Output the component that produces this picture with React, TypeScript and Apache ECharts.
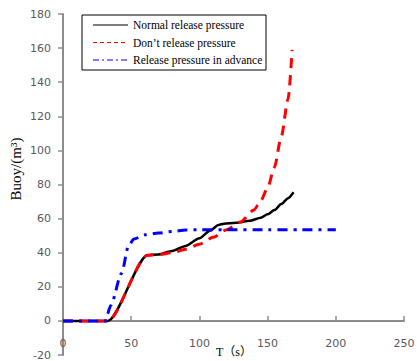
import React, { useEffect, useRef } from "react";
import * as echarts from "echarts";

const seriesNames = [
  "Normal release pressure",
  "Don\u2019t release pressure",
  "Release pressure in advance",
];
const seriesColors = ["#000000", "#ff0000", "#0000ff"];
const seriesDash: any[] = ["solid", [10, 7], [10, 6, 3, 6]];
const legendDash: any[] = [null, [4, 3], [6, 3, 2, 3]];

const normalT = [0, 33, 62, 70, 80, 90, 100, 108, 114, 118, 127, 137, 145, 150, 155, 160, 165, 169];
const normalV = [0, 0, 38.5, 39, 41, 44, 48.5, 53, 56.3, 57, 57.5, 58.7, 60.5, 62.5, 65, 68.5, 72, 75.5];

const dontT = [0, 33, 62, 70, 80, 90, 100, 110, 120, 130, 140, 145, 150, 155, 160, 165, 168];
const dontV = [0, 0, 38.5, 38.8, 40, 42, 45, 49, 53.5, 58, 65, 70.5, 78, 90, 108, 130, 159];

const advT = [0, 31, 35, 43, 48, 52, 60, 70, 80, 90, 100, 120, 150, 175, 200];
const advV = [0, 0, 9, 28, 44, 48, 50.5, 51.5, 52.5, 53.3, 53.5, 53.5, 53.5, 53.5, 53.5];

const xTicks = { min: 0, max: 250, interval: 50 };
const yTicks = { min: -20, max: 180, interval: 20 };
const yName = "Buoy/(m\u00B3)";
const xName = "T\uFF08s\uFF09";

const toPairs = (xs: number[], ys: number[]) => xs.map((x, i) => [x, ys[i]]);

const GRID_TOP = 14;
const GRID_BOTTOM = 6;
const CHART_H = 361;

export default function App() {
  const ref = useRef<HTMLDivElement>(null);
  useEffect(() => {
    if (!ref.current) return;
    const chart = echarts.init(ref.current, undefined, { renderer: "svg" });
    const axisLabel = {
      fontFamily: "DejaVu Sans",
      fontSize: 11,
      color: "#595959",
    };
    const plotH = CHART_H - GRID_TOP - GRID_BOTTOM;
    const zeroOffset = -((0 - yTicks.min) / (yTicks.max - yTicks.min)) * plotH;
    const allData = [toPairs(normalT, normalV), toPairs(dontT, dontV), toPairs(advT, advV)];

    const legendBox = { x: 82, y: 15, w: 184, h: 55 };
    const legendRows = [25, 42.5, 60];
    const legendItems: any[] = [
      {
        type: "rect",
        shape: { x: legendBox.x, y: legendBox.y, width: legendBox.w, height: legendBox.h },
        style: { fill: "#fff", stroke: "#000", lineWidth: 1 },
        z: 10,
      },
    ];
    seriesNames.forEach((n, i) => {
      legendItems.push({
        type: "line",
        shape: { x1: 93, y1: legendRows[i], x2: 128, y2: legendRows[i] },
        style: { stroke: seriesColors[i], lineWidth: 1.2, lineDash: legendDash[i] },
        z: 11,
      });
      legendItems.push({
        type: "text",
        x: 133,
        y: legendRows[i],
        style: {
          text: n,
          verticalAlign: "middle",
          align: "left",
          fontFamily: "Liberation Serif",
          fontSize: 11.5,
          fill: "#000",
        },
        z: 11,
      });
    });

    chart.setOption({
      animation: false,
      backgroundColor: "#fff",
      grid: { left: 63, right: 13, top: GRID_TOP, bottom: GRID_BOTTOM, containLabel: false, outerBoundsMode: "none" },
      graphic: [
        ...legendItems,
        {
          type: "text",
          x: 16,
          y: 169,
          rotation: Math.PI / 2,
          style: {
            text: yName,
            align: "center",
            verticalAlign: "middle",
            fontFamily: "Liberation Serif",
            fontSize: 15,
            fill: "#000",
          },
        },
        {
          type: "text",
          x: 234,
          y: 352,
          style: {
            text: xName,
            align: "center",
            verticalAlign: "middle",
            fontFamily: "Liberation Serif, Noto Sans CJK SC",
            fontSize: 12,
            fill: "#000",
          },
        },
      ],
      xAxis: {
        type: "value",
        ...xTicks,
        position: "bottom",
        offset: zeroOffset,
        axisLine: { onZero: false, lineStyle: { color: "#8c8c8c", width: 2 } },
        axisTick: { inside: true, length: 5, lineStyle: { color: "#8c8c8c", width: 1.5 } },
        axisLabel: { ...axisLabel, margin: 17 },
        splitLine: { show: false },
      },
      yAxis: {
        type: "value",
        ...yTicks,
        axisLine: { show: true, onZero: false, lineStyle: { color: "#8c8c8c", width: 2 } },
        axisTick: { show: true, inside: false, length: 5, lineStyle: { color: "#8c8c8c", width: 1.5 } },
        axisLabel: { ...axisLabel, margin: 12 },
        splitLine: { show: false },
      },
      series: seriesNames.map((n, i) => ({
        name: n,
        type: "line",
        data: allData[i],
        symbol: "none",
        smooth: 0.25,
        smoothMonotone: "x",
        lineStyle: { color: seriesColors[i], width: i === 0 ? 2.5 : 3, type: seriesDash[i] },
        itemStyle: { color: seriesColors[i] },
      })),
    });
    return () => chart.dispose();
  }, []);
  return (
    <div
      ref={ref}
      style={{ position: "fixed", left: 0, top: 0, width: 417, height: 361 }}
    />
  );
}
